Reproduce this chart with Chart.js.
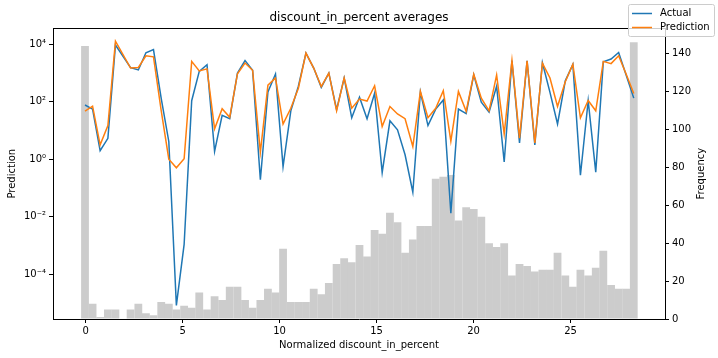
<!DOCTYPE html>
<html>
<head>
<meta charset="utf-8">
<script src="https://cdn.jsdelivr.net/npm/chart.js@4.4.1/dist/chart.umd.min.js"></script>
<style>
  html, body { margin: 0; padding: 0; background: #fff; }
  #wrap { position: relative; width: 718px; height: 358px; }
</style>
</head>
<body>
<div id="wrap"><canvas id="chart" width="718" height="358"></canvas></div>
<script>
// bin centers of the histogram (normalized discount_in_percent)
const binCenters = [
  -0.03, 0.36, 0.75, 1.15, 1.54, 1.93, 2.32, 2.72, 3.11, 3.50,
  3.90, 4.29, 4.68, 5.08, 5.47, 5.86, 6.26, 6.65, 7.04, 7.43,
  7.83, 8.22, 8.61, 9.01, 9.40, 9.79, 10.18, 10.58, 10.97, 11.36,
  11.76, 12.15, 12.54, 12.94, 13.33, 13.72, 14.12, 14.51, 14.90, 15.29,
  15.69, 16.08, 16.47, 16.87, 17.26, 17.65, 18.05, 18.44, 18.83, 19.22,
  19.62, 20.01, 20.40, 20.80, 21.19, 21.58, 21.98, 22.37, 22.76, 23.16,
  23.55, 23.94, 24.33, 24.73, 25.12, 25.51, 25.91, 26.30, 26.69, 27.09,
  27.48, 27.87, 28.26
];

const frequency = [
  144, 8, 1, 5, 5, 0, 5, 8, 3, 2,
  9, 8, 5, 7, 6, 14, 5, 12, 10, 17,
  17, 10, 6, 10, 16, 14, 37, 9, 9, 9,
  16, 13, 19, 29, 32, 30, 39, 33, 47, 45,
  56, 51, 35, 42, 49, 49, 74, 75, 76, 52,
  59, 58, 54, 40, 38, 40, 23, 29, 28, 25,
  26, 26, 35, 23, 17, 26, 23, 27, 36, 18,
  16, 16, 146
];

const actual = [
  78, 56, 2.0, 5.4, 9500, null, 1550, 1290, 5100, 6600,
  130, 4.2, 8.3e-6, 1.1e-3, 110, 1150, 1950, 1.9, 34, 26,
  1000, 2750, 1260, 0.195, 220, 930, 0.56, 49, 350, 5000,
  1500, 320, 1000, 54, 680, 28, 145, 26, 200, 0.35,
  22, 10.7, 1.45, 0.072, 220, 15, 56, 117, 0.0135, 56,
  39, 870, 98, 44, 350, 0.81, 2750, 3.7, 2700, 3.2,
  2300, 215, 17, 540, 2000, 0.28, 110, 0.36, 2500, 3100,
  5250, 850, 135
];

const prediction = [
  48, 71, 3.2, 15, 12900, null, 1500, 1580, 4000, 3700,
  49, 1.02, 0.51, 1.05, 2570, 1200, 1410, 11.5, 58, 29,
  955, 2240, 1260, 1.78, 380, 680, 17, 60, 300, 5000,
  1500, 340, 1000, 49, 680, 60, 126, 107, 363, 14,
  69, 38, 26, 2.8, 230, 28, 60, 245, 4.3, 230,
  47, 910, 135, 49, 870, 7.6, 2750, 5.5, 2700, 3.7,
  2240, 680, 69, 500, 2040, 28, 112, 49, 2570, 2140,
  4000, 910, 195
];

const xTicks = [0, 5, 10, 15, 20, 25];
const logTicks = [1e-4, 1e-2, 1, 1e2, 1e4];
const freqTicks = [0, 20, 40, 60, 80, 100, 120, 140];

const FONT = "'DejaVu Sans', sans-serif";
const sup = { "-": "\u207B", "0": "\u2070", "1": "\u00B9", "2": "\u00B2", "3": "\u00B3",
  "4": "\u2074", "5": "\u2075", "6": "\u2076", "7": "\u2077", "8": "\u2078", "9": "\u2079" };
const powLabel = (v) => "10" + String(Math.round(Math.log10(v))).split("").map(c => sup[c]).join("");

const points = (ys) => binCenters.map((x, i) => ({ x, y: ys[i] }));

// frame on top + figure legend + right axis label
const extras = {
  id: "extras",
  afterDraw(chart) {
    const { ctx, chartArea: a } = chart;
    ctx.save();
    ctx.strokeStyle = "#000";
    ctx.lineWidth = 1;
    ctx.beginPath();
    ctx.moveTo(a.left, Math.round(a.top) + 0.5);
    ctx.lineTo(a.right, Math.round(a.top) + 0.5);
    ctx.stroke();

    ctx.fillStyle = "#000";
    ctx.font = "10px " + FONT;
    ctx.textAlign = "center";
    ctx.textBaseline = "middle";
    ctx.translate(701, (a.top + a.bottom) / 2);
    ctx.rotate(-Math.PI / 2);
    ctx.fillText("Frequency", 0, 0);
    ctx.restore();

    // legend
    ctx.save();
    const bx = 628.5, by = 4.5, bw = 86, bh = 32, r = 2;
    ctx.beginPath();
    ctx.moveTo(bx + r, by);
    ctx.arcTo(bx + bw, by, bx + bw, by + bh, r);
    ctx.arcTo(bx + bw, by + bh, bx, by + bh, r);
    ctx.arcTo(bx, by + bh, bx, by, r);
    ctx.arcTo(bx, by, bx + bw, by, r);
    ctx.closePath();
    ctx.fillStyle = "rgba(255,255,255,0.8)";
    ctx.fill();
    ctx.strokeStyle = "#cccccc";
    ctx.lineWidth = 1;
    ctx.stroke();
    const items = [["Actual", "#1f77b4", 13.5], ["Prediction", "#ff7f0e", 27.5]];
    ctx.font = "10px " + FONT;
    ctx.textBaseline = "middle";
    ctx.textAlign = "left";
    for (const [label, color, y] of items) {
      ctx.strokeStyle = color;
      ctx.lineWidth = 1.5;
      ctx.beginPath();
      ctx.moveTo(632, y);
      ctx.lineTo(652, y);
      ctx.stroke();
      ctx.fillStyle = "#000";
      ctx.fillText(label, 660, y);
    }
    ctx.restore();
  }
};

Chart.defaults.color = "#000";
Chart.defaults.font.family = FONT;
Chart.defaults.font.size = 10;

const axisGrid = { display: true, drawOnChartArea: false, drawTicks: true, tickLength: 4, color: "#000", offset: false };
const axisBorder = { display: true, color: "#000", width: 1 };

new Chart(document.getElementById("chart"), {
  type: "bar",
  data: {
    datasets: [
      {
        type: "line",
        label: "Prediction",
        data: points(prediction),
        yAxisID: "y",
        borderColor: "#ff7f0e",
        borderWidth: 1.5,
        pointRadius: 0,
        spanGaps: true,
        order: 1
      },
      {
        type: "line",
        label: "Actual",
        data: points(actual),
        yAxisID: "y",
        borderColor: "#1f77b4",
        borderWidth: 1.5,
        pointRadius: 0,
        spanGaps: true,
        order: 2
      },
      {
        type: "bar",
        label: "Frequency",
        data: points(frequency),
        yAxisID: "y2",
        backgroundColor: "#cccccc",
        borderWidth: 0,
        barPercentage: 1.03,
        categoryPercentage: 1,
        order: 3
      }
    ]
  },
  options: {
    responsive: false,
    animation: false,
    layout: { padding: 0 },
    plugins: {
      legend: { display: false },
      tooltip: { enabled: false },
      title: {
        display: true,
        text: "discount_in_percent averages",
        font: { size: 12, weight: "normal" },
        padding: { top: 11, bottom: 3 }
      }
    },
    scales: {
      x: {
        type: "linear",
        position: "bottom",
        min: -1.68,
        max: 29.87,
        offset: false,
        afterBuildTicks: (s) => { s.ticks = xTicks.map(v => ({ value: v })); },
        afterFit: (s) => { s.height = 39; },
        grid: axisGrid,
        border: axisBorder,
        ticks: { padding: 2, maxRotation: 0 },
        title: { display: true, text: "Normalized discount_in_percent", padding: { top: 0, bottom: 7 } }
      },
      y: {
        type: "logarithmic",
        position: "left",
        min: 2.8e-6,
        max: 3.6e4,
        afterBuildTicks: (s) => { s.ticks = logTicks.map(v => ({ value: v })); },
        afterFit: (s) => { s.width = 53; },
        grid: axisGrid,
        border: axisBorder,
        ticks: { padding: 3, callback: (v) => powLabel(v) },
        title: { display: true, text: "Prediction", padding: { top: 6, bottom: 0 } }
      },
      y2: {
        type: "linear",
        position: "right",
        min: 0,
        max: 153.3,
        afterBuildTicks: (s) => { s.ticks = freqTicks.map(v => ({ value: v })); },
        afterFit: (s) => { s.width = 53; },
        grid: axisGrid,
        border: axisBorder,
        ticks: { padding: 3 }
      }
    }
  },
  plugins: [extras]
});
</script>
</body>
</html>
